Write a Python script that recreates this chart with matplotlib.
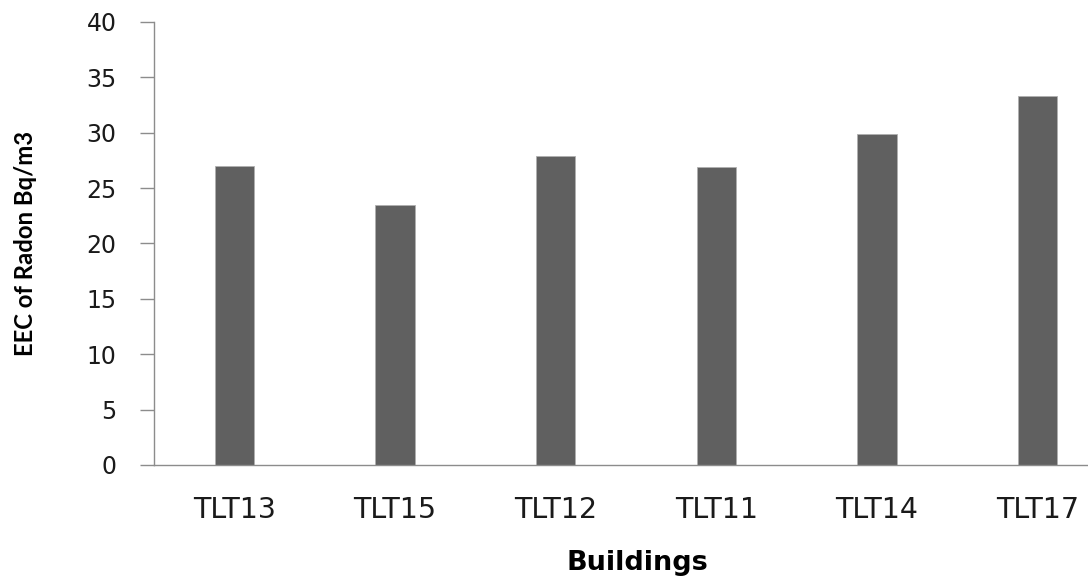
import matplotlib
matplotlib.use("Agg")
import matplotlib.pyplot as plt
import numpy as np

plt.rcParams["font.family"] = ["DejaVu Sans"]

categories = ["TLT13", "TLT15", "TLT12", "TLT11", "TLT14", "TLT17"]
values = [27.0, 23.5, 27.9, 26.95, 29.9, 33.3]
y_ticks = [0, 5, 10, 15, 20, 25, 30, 35, 40]

W, H = 1088, 579
fig = plt.figure(figsize=(W / 100, H / 100), dpi=100)
fig.patch.set_facecolor("white")

left, right, bottom, top = 154, 1118, 465, 22
ax = fig.add_axes([left / W, 1 - bottom / H, (right - left) / W, (bottom - top) / H])

x = np.arange(len(categories))
ax.bar(x, values, width=0.245, color="#606060", edgecolor="#b0b0b0", linewidth=0.6, zorder=2)

ax.set_xlim(-0.5, len(categories) - 0.5)
ax.set_ylim(0, 40)
ax.set_yticks(y_ticks)
ax.set_yticklabels([str(v) for v in y_ticks], fontfamily="DejaVu Sans", fontsize=17, color="#1a1a1a")
ax.set_xticks(x)
ax.set_xticklabels(categories, fontfamily="DejaVu Sans", fontsize=20.5, color="#1a1a1a")

for s in ["top", "right"]:
    ax.spines[s].set_visible(False)
for s in ["left", "bottom"]:
    ax.spines[s].set_color("#8c8c8c")
    ax.spines[s].set_linewidth(1.0)

ax.tick_params(axis="y", direction="out", length=10, width=1.0, color="#8c8c8c", pad=17)
ax.tick_params(axis="x", length=0, pad=22)

fig.text(26 / W, 1 - 243 / H, "EEC of Radon Bq/m3", rotation=90, ha="center", va="center",
         fontsize=17.2, fontweight="bold",
         family=["Lato", "DejaVu Sans"], color="#000000")
fig.text(637 / W, 1 - 563 / H, "Buildings", ha="center", va="center",
         fontsize=19.5, fontweight="bold", family=["DejaVu Sans"], color="#000000")

fig.savefig("out.png", dpi=100, facecolor="white")
